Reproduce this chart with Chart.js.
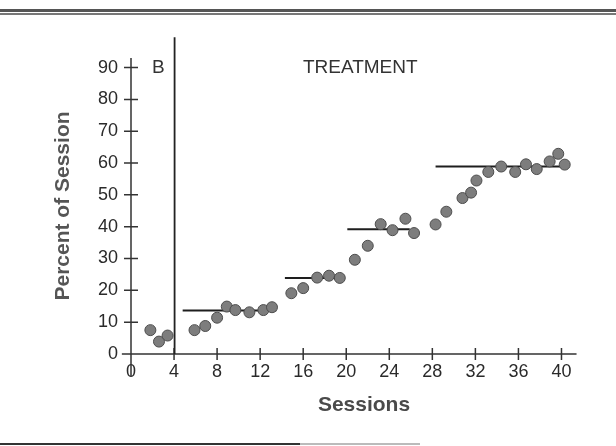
<!DOCTYPE html>
<html>
<head>
<meta charset="utf-8">
<script src="https://cdn.jsdelivr.net/npm/chart.js@4.4.1/dist/chart.umd.min.js"></script>
<style>
  html, body { margin: 0; padding: 0; background: #fff; }
  #wrap { position: relative; width: 616px; height: 446px; overflow: hidden; }
  .rule { position: absolute; left: 0; }
</style>
</head>
<body>
<div id="wrap">
  <canvas id="sessionChart" width="616" height="446"></canvas>
  <div class="rule" style="top:9px;width:616px;height:3px;background:#555"></div>
  <div class="rule" style="top:13px;width:616px;height:2px;background:#777"></div>
  <div class="rule" style="top:443px;width:300px;height:2px;background:#333"></div>
  <div class="rule" style="top:443px;left:300px;width:120px;height:2px;background:#bbb"></div>
</div>
<script>
// Baseline (B) sessions
const baselineSessions = [1.8, 2.6, 3.4];
const baselinePercent = [7.5, 3.9, 5.8];

// Treatment sessions
const treatmentSessions = [5.9, 6.9, 8.0, 8.9, 9.7, 11.0, 12.3, 13.1, 14.9, 16.0,
  17.3, 18.4, 19.4, 20.8, 22.0, 23.2, 24.3, 25.5, 26.3, 28.3, 29.3, 30.8, 31.6,
  32.1, 33.2, 34.4, 35.7, 36.7, 37.7, 38.9, 39.7, 40.3];
const treatmentPercent = [7.5, 8.8, 11.4, 14.9, 13.8, 13.1, 13.8, 14.7, 19.1, 20.7,
  24.0, 24.6, 23.9, 29.6, 34.0, 40.8, 38.9, 42.5, 38.0, 40.7, 44.7, 49.0, 50.7,
  54.5, 57.2, 58.9, 57.2, 59.6, 58.1, 60.5, 62.9, 59.5];

// Criterion (mean) lines
const levelStart = [4.8, 14.3, 20.1, 28.3];
const levelEnd = [13.5, 19.7, 25.9, 40.6];
const levelValue = [13.7, 23.9, 39.2, 58.9];

const phaseChange = 4.05;
const phaseNames = ["B", "TREATMENT"];
const phaseNameAt = [2.55, 21.3];

const xTicks = [0, 4, 8, 12, 16, 20, 24, 28, 32, 36, 40];
const yTicks = [0, 10, 20, 30, 40, 50, 60, 70, 80, 90];

const FAMILY = "'Liberation Sans Narrow', 'Arial Narrow', 'Liberation Sans', Arial, sans-serif";
const ink = "#2a2a2a";

function pairs(xs, ys) {
  return xs.map((x, i) => ({ x: x, y: ys[i] }));
}

const pointStyle = {
  type: "scatter",
  pointRadius: 5.5,
  pointHoverRadius: 5.5,
  backgroundColor: "#7d7d7d",
  borderColor: "#4d4d4d",
  borderWidth: 1,
  order: 0,
};

const levelSets = levelValue.map((v, i) => ({
  type: "line",
  data: [{ x: levelStart[i], y: v }, { x: levelEnd[i], y: v }],
  borderColor: "#1e1e1e",
  borderWidth: 2,
  pointRadius: 0,
  order: 1,
}));

// hand-drawn style axes crossing at 0, ticks through the axis
const axesPlugin = {
  id: "crossAxes",
  beforeDatasetsDraw(chart) {
    const { ctx, scales: { x, y } } = chart;
    const x0 = x.getPixelForValue(0);
    const y0 = y.getPixelForValue(0);
    ctx.save();
    ctx.strokeStyle = "#333";
    ctx.lineWidth = 1.5;
    ctx.beginPath();
    ctx.moveTo(x0, y.getPixelForValue(93));
    ctx.lineTo(x0, y.getPixelForValue(-7));
    ctx.moveTo(x.getPixelForValue(-0.85), y0);
    ctx.lineTo(x.getPixelForValue(41.4), y0);
    yTicks.forEach((v) => {
      const p = y.getPixelForValue(v);
      ctx.moveTo(x0 - 7, p);
      ctx.lineTo(x0 + 7, p);
    });
    xTicks.forEach((v) => {
      const p = x.getPixelForValue(v);
      ctx.moveTo(p, y0 - 6);
      ctx.lineTo(p, y0 + 6);
    });
    ctx.stroke();

    // phase change line
    ctx.lineWidth = 1.8;
    ctx.strokeStyle = "#222";
    ctx.beginPath();
    ctx.moveTo(x.getPixelForValue(phaseChange), y0);
    ctx.lineTo(x.getPixelForValue(phaseChange), y.getPixelForValue(99.5));
    ctx.stroke();

    // phase names
    ctx.fillStyle = "#333";
    ctx.font = "19px 'Liberation Sans', Arial, sans-serif";
    ctx.textAlign = "center";
    ctx.textBaseline = "middle";
    phaseNames.forEach((n, i) => {
      ctx.fillText(n, x.getPixelForValue(phaseNameAt[i]), y.getPixelForValue(90));
    });
    ctx.restore();
  },
};

const ctx = document.getElementById("sessionChart").getContext("2d");
const sessionChart = new Chart(ctx, {
  data: {
    datasets: [
      { ...pointStyle, data: pairs(baselineSessions, baselinePercent) },
      { ...pointStyle, data: pairs(treatmentSessions, treatmentPercent) },
      ...levelSets,
    ],
  },
  options: {
    responsive: false,
    animation: false,
    layout: { padding: { top: 58, right: 19, left: 0, bottom: 0 } },
    plugins: { legend: { display: false }, tooltip: { enabled: false } },
    scales: {
      x: {
        type: "linear",
        min: 0,
        max: 43.3,
        grid: { display: false, drawTicks: false },
        border: { display: false },
        afterBuildTicks: (s) => { s.ticks = xTicks.map((v) => ({ value: v })); },
        afterFit: (s) => { s.height = 92; },
        ticks: {
          autoSkip: false,
          maxRotation: 0,
          padding: 7,
          color: ink,
          font: { family: FAMILY, size: 18 },
        },
        title: {
          display: true,
          text: "Sessions",
          color: "#4a4a4a",
          font: { family: FAMILY, size: 21, weight: "bold" },
          padding: { top: 0, bottom: 28 },
        },
      },
      y: {
        type: "linear",
        min: 0,
        max: 93,
        grid: { display: false, drawTicks: false },
        border: { display: false },
        afterBuildTicks: (s) => { s.ticks = yTicks.map((v) => ({ value: v })); },
        afterFit: (s) => { s.width = 131; },
        ticks: {
          padding: 13,
          color: ink,
          font: { family: FAMILY, size: 18 },
        },
        title: {
          display: true,
          text: "Percent of Session",
          color: "#555",
          font: { family: FAMILY, size: 21, weight: "bold" },
          padding: { top: 51, bottom: 0 },
        },
      },
    },
  },
  plugins: [axesPlugin],
});
</script>
</body>
</html>
